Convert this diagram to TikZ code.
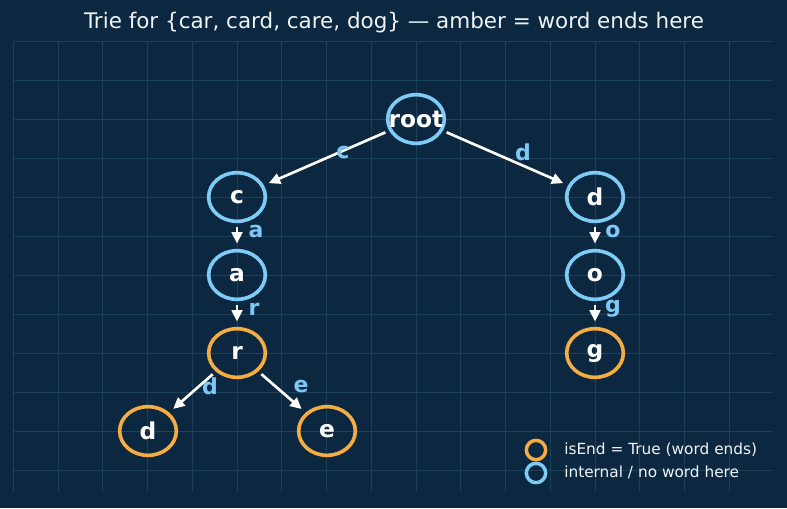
\documentclass[tikz,border=0pt]{standalone}
\usepackage{fontspec}
\setmainfont{DejaVu Sans}
\usetikzlibrary{shapes.geometric,arrows.meta}
\definecolor{bg}{HTML}{0C2840}
\definecolor{sky}{HTML}{7DCCF7}
\definecolor{amber}{HTML}{F5AD42}
\definecolor{lbl}{HTML}{7DC8F5}
\definecolor{titlec}{HTML}{EEF3F8}
\colorlet{gridc}{sky!14!bg}
\begin{document}
\begin{tikzpicture}[x=0.75pt,y=-0.75pt,
  trienode/.style={ellipse, line width=2.7pt, minimum width=42.5pt, minimum height=36.5pt, inner sep=0pt, text=white, font=\fontsize{17.5}{17.5}\selectfont\bfseries},
  internal/.style={trienode, draw=sky},
  wordend/.style={trienode, draw=amber},
  edge/.style={draw=white, line width=2pt, -{Triangle[length=8.5pt,width=8pt]}, shorten <=3pt, shorten >=4pt},
  elabel/.style={text=lbl, font=\fontsize{16.5}{16.5}\selectfont\bfseries, inner sep=0pt},
  legmark/.style={circle, line width=2.6pt, minimum size=14.5pt, inner sep=0pt},
  legtext/.style={anchor=west, text=titlec, font=\fontsize{11.5}{11.5}\selectfont, inner sep=0pt},
  gridline/.style={draw=gridc, line width=0.7pt}
]
\fill[bg] (0,0) rectangle (787,508);
\useasboundingbox (0,0) rectangle (787,508);
% grid
\foreach \k in {-9,...,7} \draw[gridline] ({416+44.75*\k},41) -- ({416+44.75*\k},492);
\foreach \k in {-2,...,9} \draw[gridline] (13,{119+39*\k}) -- (773,{119+39*\k});
% title
\node[text=titlec, font=\fontsize{16.1}{16.1}\selectfont, inner sep=0pt] (title) at (394,23) {Trie for \{car, card, care, dog\} — amber = word ends here};
% nodes
\node[internal] (root) at (416,119) {\makebox[0pt]{root}};
\node[internal] (c) at (237,197) {c};
\node[internal] (a) at (237,275) {a};
\node[wordend] (r) at (237,353) {r};
\node[wordend] (rd) at (148,431) {d};
\node[wordend] (re) at (327,431) {e};
\node[internal] (d) at (595,197) {d};
\node[internal] (o) at (595,275) {o};
\node[wordend] (g) at (595,353) {g};
% edges
\draw[edge] (root) -- (c);
\draw[edge] (root) -- (d);
\draw[edge] (c) -- (a);
\draw[edge] (a) -- (r);
\draw[edge] (r) -- (rd);
\draw[edge] (r) -- (re);
\draw[edge] (d) -- (o);
\draw[edge] (o) -- (g);
% edge labels
\node[elabel] (lc) at (343,152) {c};
\node[elabel] (ld) at (523,152) {d};
\node[elabel] (la) at (256,231) {a};
\node[elabel] (lr) at (254,309) {r};
\node[elabel] (lrd) at (210,386) {d};
\node[elabel] (lre) at (301,386) {e};
\node[elabel] (lo) at (613,231) {o};
\node[elabel] (lg) at (613,309) {g};
% legend
\node[legmark, draw=amber] (legend1) at (536,450) {};
\node[legmark, draw=sky] (legend2) at (536,473) {};
\node[legtext] (legtext1) at (564,450) {isEnd = True (word ends)};
\node[legtext] (legtext2) at (564,472) {internal / no word here};
\end{tikzpicture}
\end{document}
